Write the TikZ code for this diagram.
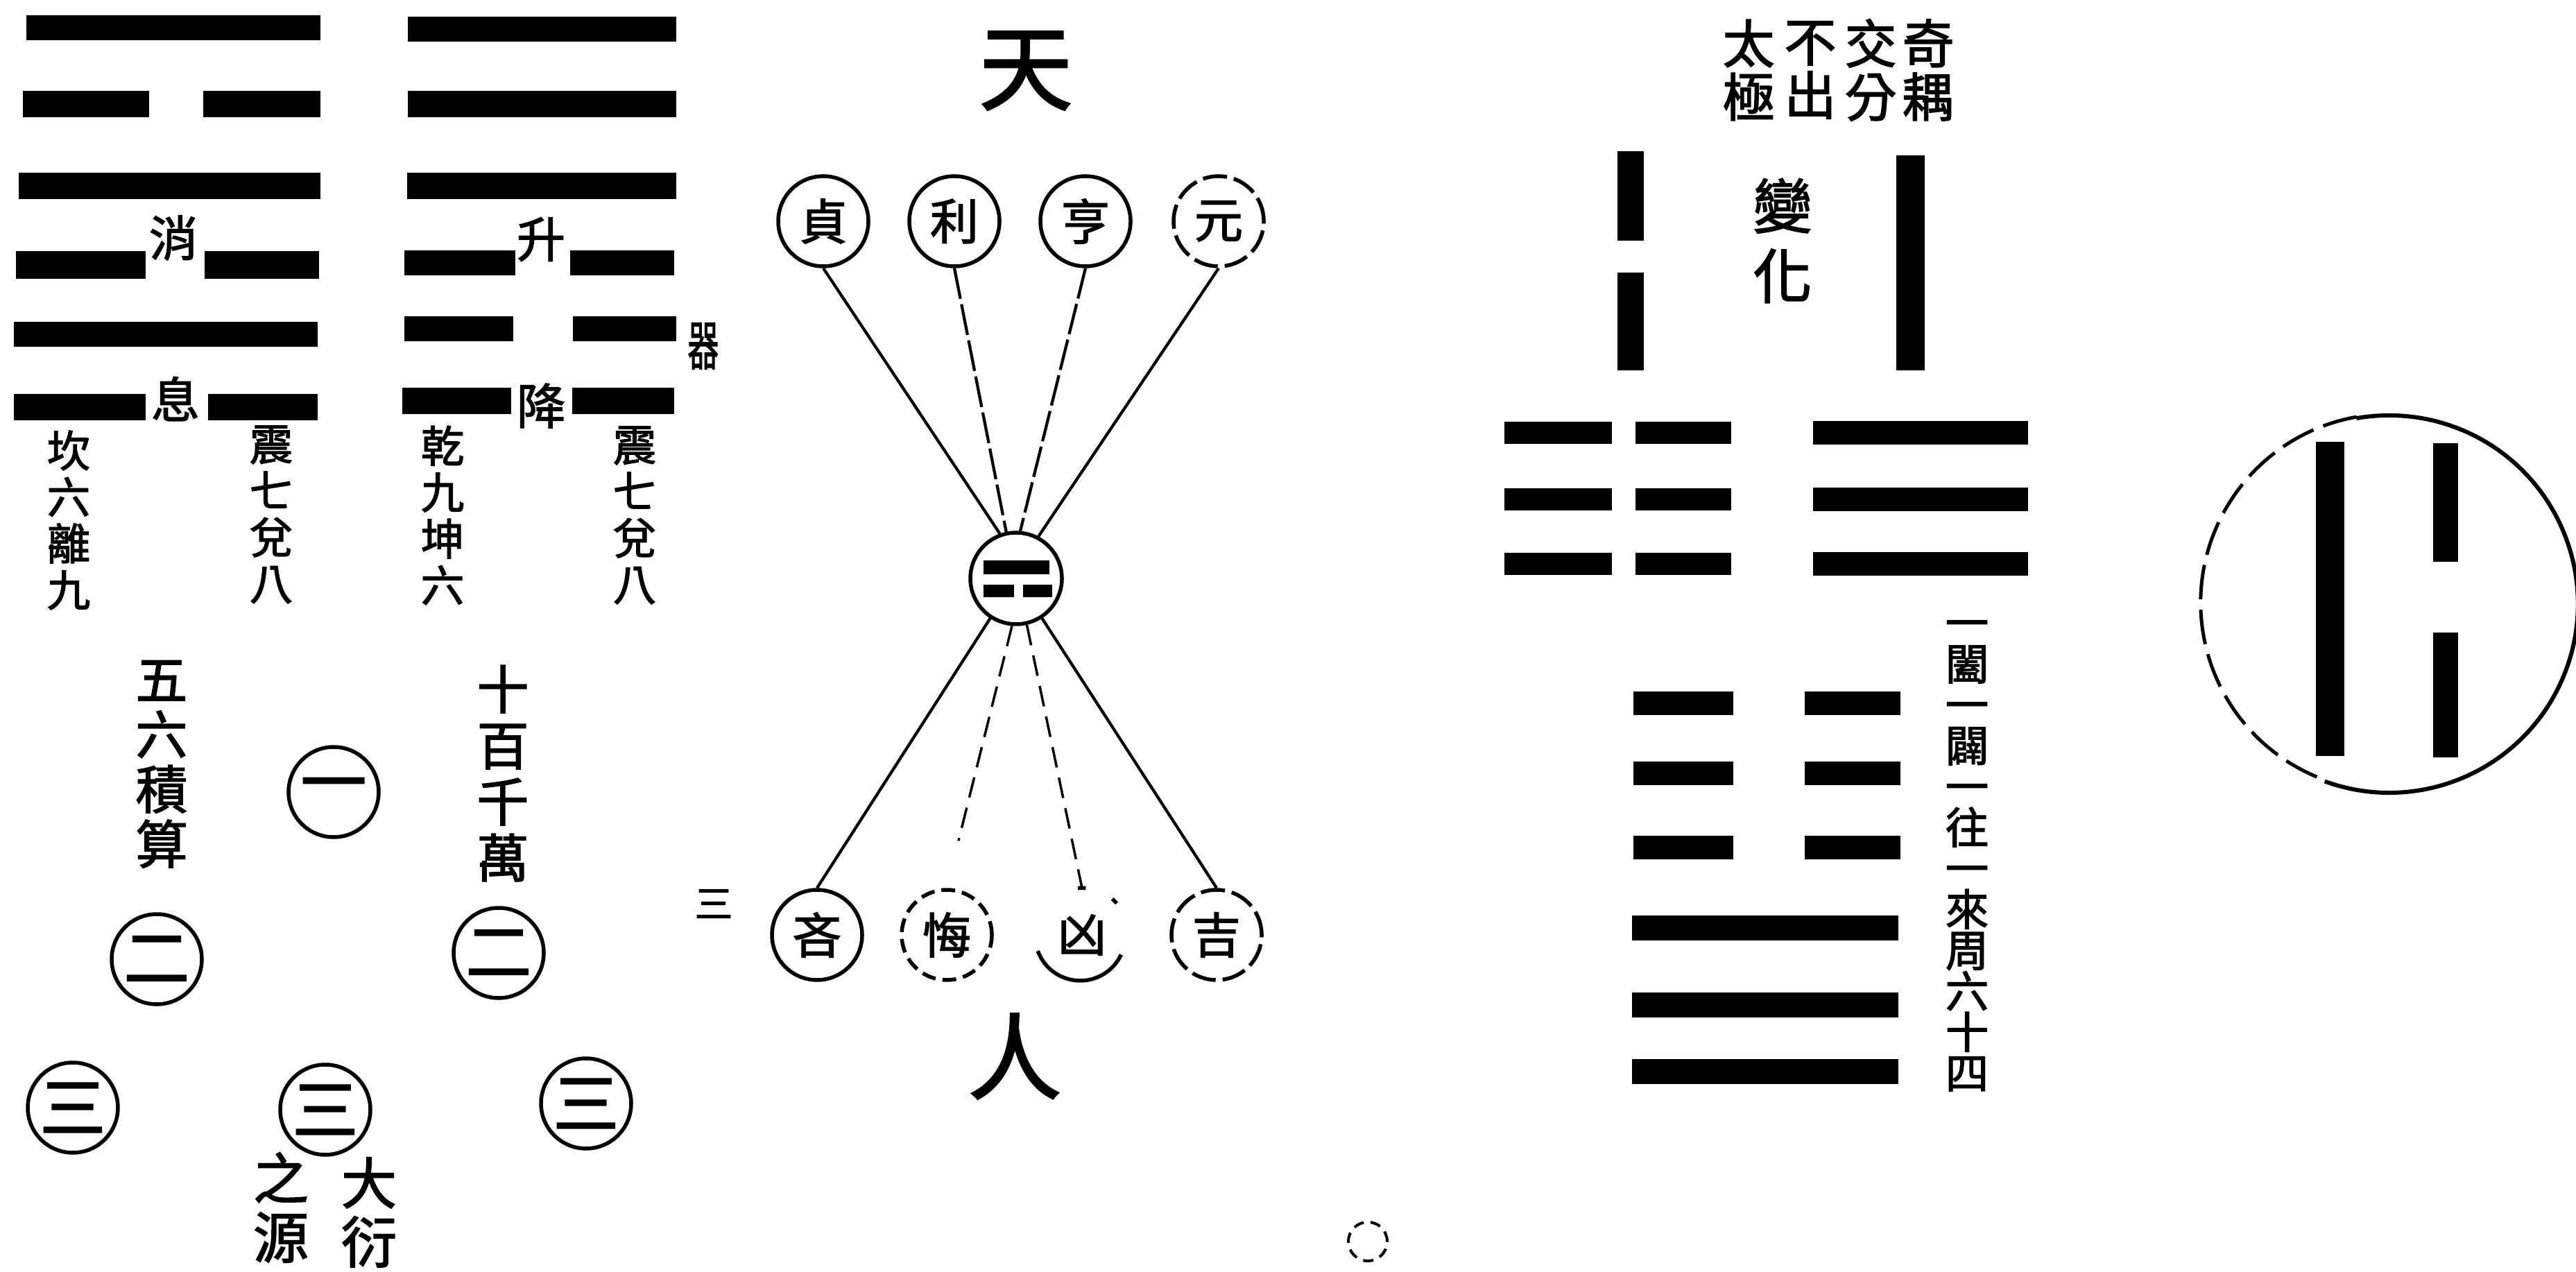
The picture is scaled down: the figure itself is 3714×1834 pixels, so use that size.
\documentclass[tikz,border=0pt]{standalone}
\usepackage{fontspec}
\newfontfamily\cjk[FakeBold=2]{Noto Sans CJK TC}
\usetikzlibrary{calc}
\newcommand\hseg[4]{\fill ({#1},{#3-#4}) rectangle ({#2},{#3+#4});}
\begin{document}
\begin{tikzpicture}[x=0.2pt,y=-0.2pt,
  txt/.style n args={2}{font=\cjk\fontsize{#1}{#2}\selectfont, align=center, inner sep=0pt},
  ring/.style={circle, draw, line width=1.1pt, minimum size=26pt, inner sep=0pt, font=\cjk\fontsize{14}{14}\selectfont},
  numring/.style={ring, font=\cjk\fontsize{19}{19}\selectfont},
  dring/.style={ring, dash pattern=on 7pt off 2pt},
  conn/.style={line width=0.85pt},
  brk/.style={conn, dash pattern=on 9pt off 1.6pt},
  sbrk/.style={conn, line width=0.7pt, dash pattern=on 6pt off 3pt},
  ]
\useasboundingbox (0,0) rectangle (3714,1834);

% ---------- left hexagram ----------
\hseg{38}{462}{40}{18}
\hseg{33}{215}{150}{19}\hseg{293}{462}{150}{19}
\hseg{27}{462}{268}{19}
\hseg{23}{210}{382}{20}\hseg{295}{460}{382}{20}
\hseg{20}{458}{482}{18}
\hseg{20}{210}{587}{19}\hseg{300}{458}{587}{19}
\node[txt={14}{14}] (xiao) at (250,343) {消};
\node[txt={14}{14}] (xi2) at (253,575) {息};
\node[txt={12.5}{13.4}] (kan) at (99,750) {坎\\六\\離\\九};
\node[txt={12.5}{13.4}] (zhenA) at (391,742) {震\\七\\兌\\八};

% ---------- right hexagram ----------
\hseg{588}{975}{42}{18}
\hseg{588}{975}{150}{19}
\hseg{587}{975}{268}{19}
\hseg{583}{743}{379}{18}\hseg{822}{972}{379}{18}
\hseg{583}{740}{474}{18}\hseg{826}{975}{474}{18}
\hseg{580}{737}{578}{19}\hseg{825}{972}{578}{19}
\node[txt={14}{14}] (sheng) at (780,345) {升};
\node[txt={14}{14}] (jiang) at (780,585) {降};
\node[txt={12.5}{13.4}] (qian) at (638,743) {乾\\九\\坤\\六};
\node[txt={12.5}{13.4}] (zhenB) at (915,743) {震\\七\\兌\\八};
\node[txt={9}{9}] (qi) at (1014,499) {\scalebox{1}[1.7]{器}};

% ---------- heaven / man fan ----------
\node[txt={27}{27}] (tian) at (1479,102) {天};
\node[txt={27}{27}] (ren) at (1463,1523) {人};
\node[ring] (zh) at (1187,319) {貞};
\node[ring] (li) at (1376,319) {利};
\node[ring] (he) at (1565,319) {亨};
\node[dring] (yu) at (1757,319) {元};
\node[ring, minimum size=26.4pt] (ctr) at (1465,834) {};
\hseg{1418}{1513}{818}{10}
\hseg{1418}{1462}{852}{9}\hseg{1475}{1517}{852}{9}
\node[ring] (lin) at (1178,1348) {吝};
\node[ring, dash pattern=on 4pt off 2pt] (hui) at (1365,1348) {悔};
\node[ring, draw=none] (xiong) at (1560,1348) {凶};
\node[dring] (ji) at (1754,1348) {吉};
\draw[line width=1.1pt] (xiong.200) arc[start angle=200, end angle=335, radius=13pt];
\draw[line width=1.1pt] (xiong.95) arc[start angle=95, end angle=85, radius=13pt];
\draw[line width=1.1pt] (xiong.50) arc[start angle=50, end angle=42, radius=13pt];
\node[txt={11}{11}] (san) at (1029,1303) {三};

\draw[conn] (zh.south) -- (ctr.110);
\draw[brk] (li.south) -- (ctr.102);
\draw[brk] (he.south) -- (ctr.85);
\draw[conn] (yu.south) -- (ctr.62);
\coordinate (huiend) at ($(ctr.265)!0.82!(hui.north)$);
\draw[conn] (ctr.237) -- (lin.north);
\draw[sbrk] (ctr.265) -- (huiend);
\draw[sbrk] (ctr.283) -- (xiong.north);
\draw[conn] (ctr.303) -- (ji.north);

% ---------- number circles ----------
\node[txt={15}{15.8}] (wuliu) at (233,1102) {五\\六\\積\\算};
\node[txt={15}{16.2}] (shibai) at (725,1115) {十\\百\\千\\萬};
\node[numring] (n1) at (481,1142) {一};
\node[numring] (n2a) at (226,1383) {二};
\node[numring] (n2b) at (719,1374) {二};
\node[numring] (n3a) at (105,1597) {三};
\node[numring] (n3b) at (469,1600) {三};
\node[numring] (n3c) at (845,1591) {三};
\node[txt={16}{17}] (dayan) at (532,1748) {大\\衍};
\node[txt={16}{17}] (zhiyuan) at (405,1741) {之\\源};
\node[circle, draw, line width=0.8pt, minimum size=11.2pt, inner sep=0pt, dash pattern=on 3pt off 2pt] (small) at (1972,1790) {};

% ---------- change / transformation ----------
\node[txt={15}{15.4}] (c1) at (2780,101) {奇\\耦};
\node[txt={15}{15.4}] (c2) at (2697,101) {交\\分};
\node[txt={15}{15.4}] (c3) at (2610,101) {不\\出};
\node[txt={15}{15.4}] (c4) at (2521,101) {太\\極};
\fill (2332,218) rectangle (2370,347);
\fill (2332,393) rectangle (2370,534);
\fill (2734,224) rectangle (2775,534);
\node[txt={17}{20.2}] (bianhua) at (2570,347) {變\\化};
\foreach \yy in {624,720,813}{
  \hseg{2169}{2324}{\yy}{16}\hseg{2358}{2496}{\yy}{16}\hseg{2614}{2924}{\yy}{17}}
\node[txt={12.5}{11.8}] (col) at (2836,1234) {一\\闔\\一\\闢\\一\\往\\一\\來\\周\\六\\十\\四};
\foreach \yy in {1014,1115,1222}{
  \hseg{2355}{2499}{\yy}{17}\hseg{2602}{2740}{\yy}{17}}
\foreach \yy in {1338,1449,1545}{
  \hseg{2353}{2737}{\yy}{18}}

% ---------- big circle ----------
\node[circle, minimum size=108.8pt, inner sep=0pt] (big) at (3445,870) {};
\draw[line width=1.2pt] (big.250) arc[start angle=250, end angle=460, radius=54.4pt];
\draw[line width=1.0pt, dash pattern=on 10pt off 3pt] (big.100) arc[start angle=100, end angle=250, radius=54.4pt];
\fill (3339,637) rectangle (3380,1090);
\fill (3508,639) rectangle (3544,810);
\fill (3508,912) rectangle (3544,1092);
\end{tikzpicture}
\end{document}
